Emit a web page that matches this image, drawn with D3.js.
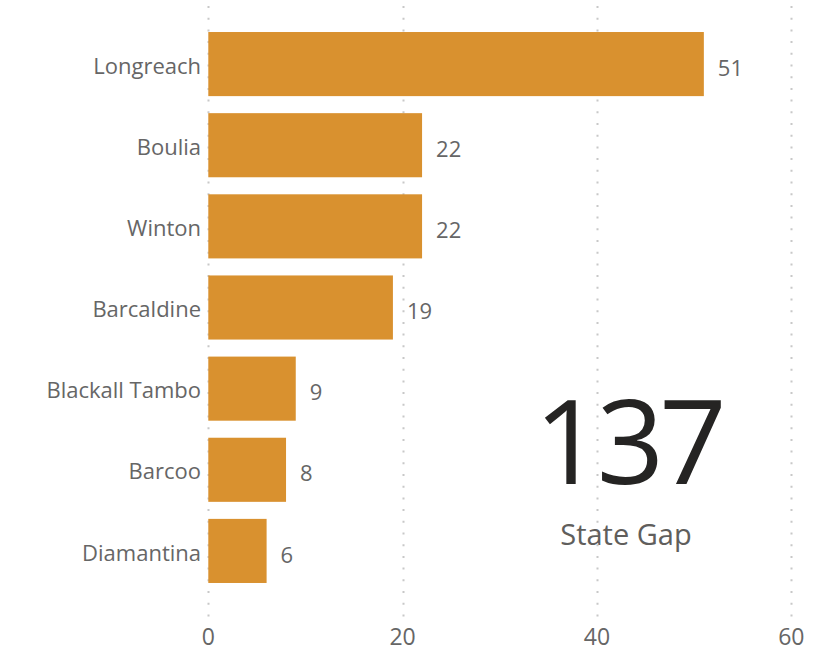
<!DOCTYPE html>
<html>
<head>
<meta charset="utf-8">
<script src="https://cdn.jsdelivr.net/npm/d3@7"></script>
<style>
  html, body { margin: 0; padding: 0; background: #fff; }
  svg { display: block; font-family: "Segoe UI", "Open Sans", "Noto Sans", sans-serif; }
</style>
</head>
<body>
<svg id="chart" width="823" height="651"></svg>
<script>
const categories = ["Longreach", "Boulia", "Winton", "Barcaldine", "Blackall Tambo", "Barcoo", "Diamantina"];
const values = [51, 22, 22, 19, 9, 8, 6];
const xTicks = [0, 20, 40, 60];
const cardValue = "137";
const cardLabel = "State Gap";

const svg = d3.select("#chart");
const x = d3.scaleLinear().domain([0, 60]).range([208.3, 791.3]);
const y = d3.scaleBand().domain(categories).range([23.5, 591.5]).paddingInner(0.21).paddingOuter(0.105);

// gridlines
svg.append("g").selectAll("line").data(xTicks).join("line")
  .attr("x1", d => Math.round(x(d)) + 0.5).attr("x2", d => Math.round(x(d)) + 0.5)
  .attr("y1", 6).attr("y2", 620)
  .attr("stroke", "#c8c8c8").attr("stroke-width", 2)
  .attr("stroke-dasharray", "2,9.7");

// x tick labels
svg.append("g").selectAll("text").data(xTicks).join("text")
  .attr("x", d => x(d)).attr("y", 645)
  .attr("text-anchor", "middle")
  .attr("font-size", 23).attr("fill", "#666666")
  .text(d => d);

// bars
const data = categories.map((c, i) => ({ c, v: values[i] }));
svg.append("g").selectAll("rect").data(data).join("rect")
  .attr("x", x(0)).attr("y", d => y(d.c))
  .attr("width", d => x(d.v) - x(0)).attr("height", y.bandwidth())
  .attr("fill", "#D9912F");

// category labels
svg.append("g").selectAll("text").data(data).join("text")
  .attr("x", 201).attr("y", d => y(d.c) + y.bandwidth() / 2 + 2)
  .attr("dy", "0.35em").attr("text-anchor", "end")
  .attr("font-size", 22).attr("fill", "#666666")
  .text(d => d.c);

// value labels
svg.append("g").selectAll("text").data(data).join("text")
  .attr("x", d => x(d.v) + 14).attr("y", d => y(d.c) + y.bandwidth() / 2 + 4)
  .attr("dy", "0.35em").attr("text-anchor", "start")
  .attr("font-size", 22).attr("fill", "#666666")
  .text(d => d.v);

// card
svg.append("text").attr("x", 628).attr("y", 484)
  .attr("text-anchor", "middle").attr("font-size", 118)
  .attr("letter-spacing", -5)
  .attr("fill", "#252423").text(cardValue);
svg.append("text").attr("x", 626).attr("y", 545)
  .attr("text-anchor", "middle").attr("font-size", 29)
  .attr("fill", "#605E5C").text(cardLabel);
</script>
</body>
</html>
